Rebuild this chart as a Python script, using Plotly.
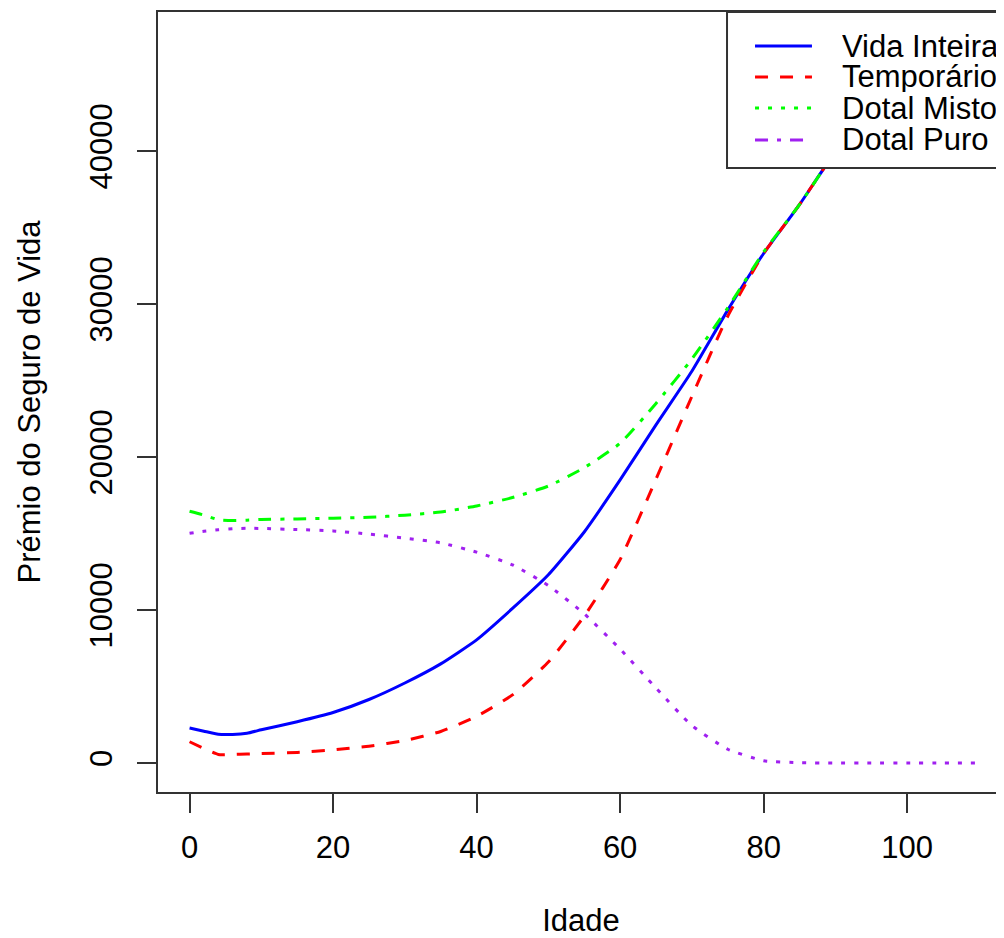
import plotly.graph_objects as go

# ---- data ----
idade = [0, 2, 4, 6, 8, 10, 15, 20, 25, 30, 35, 40, 45, 50, 55,
         60, 65, 70, 75, 80, 85, 90, 95, 100, 105, 110]
vida_inteira = [2290, 2080, 1880, 1870, 1950, 2170, 2700, 3300, 4150, 5230, 6480,
                8050, 10100, 12300, 15100, 18500, 22100, 25600, 29600, 33300,
                36500, 39950, 42800, 45000, 46500, 47375]
temporario = [1390, 950, 560, 560, 590, 615, 690, 860, 1100, 1470, 2060,
              3050, 4450, 6600, 9600, 13300, 18550, 23960, 29200, 33300,
              36500, 39950, 42800, 45000, 46500, 47375]
dotal_misto = [16450, 16200, 15900, 15850, 15870, 15920, 15950, 16000, 16060, 16200,
               16400, 16800, 17350, 18100, 19300, 20900, 23500, 26400, 29750, 33400,
               36500, 39950, 42800, 45000, 46500, 47375]
dotal_puro = [15010, 15150, 15240, 15310, 15340, 15330, 15260, 15170, 14960, 14700,
              14390, 13780, 12950, 11600, 9750, 7450, 4900, 2450, 900, 150,
              20, 0, 0, 0, 0, 0]

x_ticks = [0, 20, 40, 60, 80, 100]
y_ticks = [0, 10000, 20000, 30000, 40000]

series_names = ["Vida Inteira", "Temporário", "Dotal Misto", "Dotal Puro"]
series_colors = ["#0000FF", "#FF0000", "#00FF00", "#A020F0"]

FONT = "Liberation Sans, Arial, sans-serif"
FS = 31
AX = "#333333"

# dash styles as drawn in the plot
plot_dash = ["solid", "13px,12px", "13px,9px,4px,9px", "4px,9px"]
# dash styles as shown in the legend box of the reference
legend_dash = ["solid", "13px,12px", "4px,9px", "13px,9px,4px,9px"]

fig = go.Figure()
for name, vals, col, dsh in zip(series_names,
                                [vida_inteira, temporario, dotal_misto, dotal_puro],
                                series_colors, plot_dash):
    fig.add_trace(go.Scatter(x=idade, y=vals, mode="lines", name=name,
                             showlegend=False, hoverinfo="skip",
                             line=dict(color=col, width=3, dash=dsh,
                                       shape="spline", smoothing=0.5)))

# ---- legend box (drawn like R's legend(), top-right) ----
LEG_X0, LEG_X1, LEG_Y0, LEG_Y1 = 0.6726, 1.02, 0.80, 1.0
KEY_X0, KEY_X1, TXT_X = 0.7057, 0.7730, 0.8061
ROW_Y = [0.9564, 0.9167, 0.8769, 0.8359]

shapes = [dict(type="rect", xref="paper", yref="paper",
               x0=LEG_X0, x1=LEG_X1, y0=LEG_Y0, y1=LEG_Y1,
               fillcolor="white", line=dict(color=AX, width=2), layer="above")]
annotations = []
for name, col, dsh, ry in zip(series_names, series_colors, legend_dash, ROW_Y):
    shapes.append(dict(type="line", xref="paper", yref="paper",
                       x0=KEY_X0, x1=KEY_X1, y0=ry, y1=ry, layer="above",
                       line=dict(color=col, width=3, dash=dsh)))
    annotations.append(dict(text=name, xref="paper", yref="paper",
                            x=TXT_X, y=ry, xanchor="left", yanchor="middle",
                            height=31, valign="middle", showarrow=False,
                            font=dict(family=FONT, size=FS, color="black")))

fig.update_layout(
    width=996, height=930,
    margin=dict(l=150, r=0, t=4, b=146),
    paper_bgcolor="white", plot_bgcolor="white",
    font=dict(family=FONT, size=FS, color="black"),
    showlegend=False,
    shapes=shapes, annotations=annotations,
)
fig.update_xaxes(
    range=[-4.4, 113.5], tickmode="array", tickvals=x_ticks,
    ticks="outside", ticklen=19, tickwidth=2, tickcolor=AX,
    showline=True, linecolor=AX, linewidth=2, mirror=True,
    showgrid=False, zeroline=False, automargin=False,
    tickfont=dict(family=FONT, size=FS, color="black"),
    ticklabelstandoff=8,
    title=dict(text="Idade", font=dict(family=FONT, size=FS, color="black"), standoff=58),
)
fig.update_yaxes(
    range=[-1895, 49085], tickmode="array", tickvals=y_ticks, tickformat="d",
    ticks="outside", ticklen=19, tickwidth=2, tickcolor=AX, tickangle=-90,
    showline=True, linecolor=AX, linewidth=2, mirror=False,
    showgrid=False, zeroline=False, automargin=False,
    tickfont=dict(family=FONT, size=FS, color="black"),
    ticklabelstandoff=13,
    title=dict(text="Prémio do Seguro de Vida",
               font=dict(family=FONT, size=FS, color="black"), standoff=34),
)

fig.write_html("out.html")
